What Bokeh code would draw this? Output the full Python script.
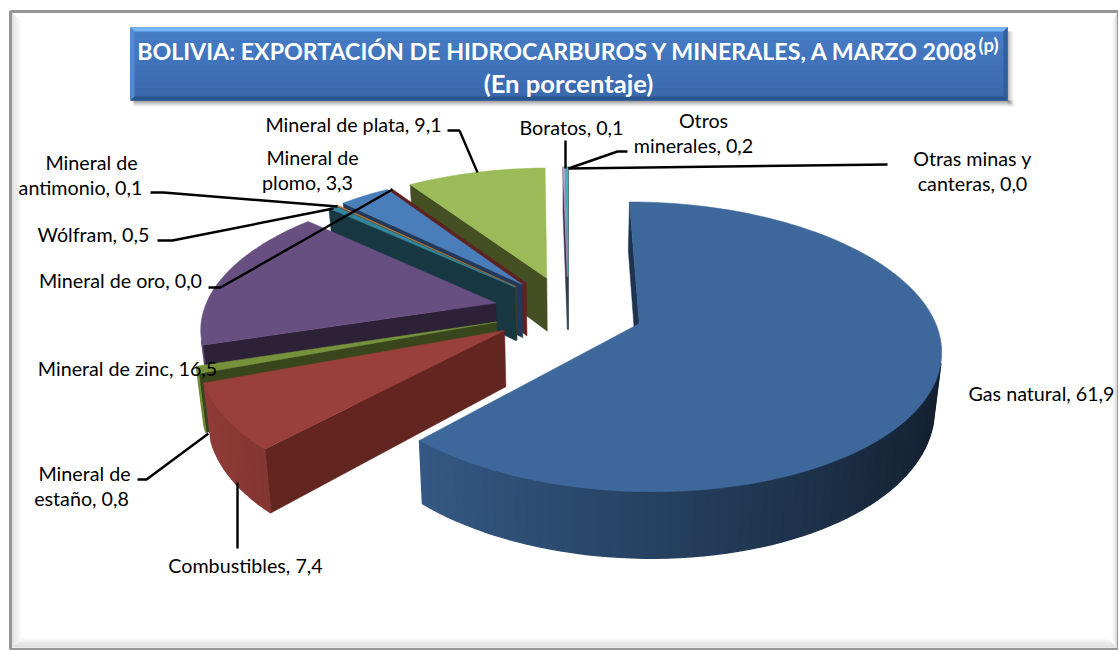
import math
from bokeh.plotting import figure
from bokeh.models import Range1d
from bokeh.core.properties import value
from bokeh.embed import file_html
from bokeh.resources import INLINE

# ---- data ----
categories = ["Gas natural", "Combustibles", "Mineral de estaño", "Mineral de zinc", "Wólfram",
              "Mineral de antimonio", "Mineral de plomo", "Mineral de oro", "Mineral de plata",
              "Boratos", "Otros minerales", "Otras minas y canteras"]
values = [61.9, 7.4, 0.8, 16.5, 0.5, 0.1, 3.3, 0.0, 9.1, 0.1, 0.2, 0.0]
title_line1 = "BOLIVIA: EXPORTACIÓN DE HIDROCARBUROS Y MINERALES, A MARZO 2008"
title_sup = "(p)"
title_line2 = "(En porcentaje)"

# ---- slice styles ----
top_colors = ["#3E689B", "#9A403C", "#76933C", "#674F81", "#31859C", "#C77B30",
              "#4A7EBB", "#953735", "#9BBB59", "#B3A2C7", "#4BACC6", "#F79646"]
wall_colors = ["#1E3350", "#62251F", "#39451C", "#2C2137", "#173842", "#4A3A20",
               "#23395A", "#5E2220", "#454F24", "#3F3050", "#205060", "#7A4A20"]
paint_order = [8, 11, 10, 9, 7, 6, 5, 4, 3, 2, 1, 0]

# ---- projection of the tilted pie ----
X0, Y0, R, K, C, E, H, SHR = 568, 310, 292, 0.158, 137, 75, 55, 0.98


def proj(mid, t):
    wx = E * math.sin(mid) + R * math.sin(t)
    w = (E * math.cos(mid) + R * math.cos(t)) / R
    s = 1 / (1 + K * w)
    return X0 + wx * s, Y0 - C * w * s, s


def apex(mid):
    wx = E * math.sin(mid)
    w = E * math.cos(mid) / R
    s = 1 / (1 + K * w)
    return X0 + wx * s, Y0 - C * w * s, s


def below(pt):
    return X0 + (pt[0] - X0) * SHR, pt[1] + H * pt[2]


def area(poly):
    return sum(poly[i][0] * poly[(i + 1) % len(poly)][1] - poly[(i + 1) % len(poly)][0] * poly[i][1]
               for i in range(len(poly)))


def shade(hexc, f):
    c = [int(hexc[i:i + 2], 16) for i in (1, 3, 5)]
    return "#%02x%02x%02x" % tuple(max(0, min(255, int(v * f))) for v in c)


total = sum(values)
starts = [sum(values[:i]) / total * 2 * math.pi for i in range(len(values))]
ends = [sum(values[:i + 1]) / total * 2 * math.pi for i in range(len(values))]

xs, ys, fills, lws = [], [], [], []


def add(poly, col, lw=0.5):
    xs.append([q[0] for q in poly])
    ys.append([q[1] for q in poly])
    fills.append(col)
    lws.append(lw)


for i in paint_order:
    a, b = starts[i], ends[i]
    m = (a + b) / 2
    if b - a == 0 and i > 0:
        # a zero share sits almost on its neighbour's exploded position
        m = m * 0.7 + 0.3 * (starts[i - 1] + ends[i - 1]) / 2
    ap = apex(m)
    pa, pb = proj(m, a), proj(m, b)
    wall_a = [ap[:2], pa[:2], below(pa), below(ap)]
    wall_b = [ap[:2], pb[:2], below(pb), below(ap)]
    if b - a == 0:
        add(wall_a, wall_colors[i])
        continue
    if area(wall_a) < 0:
        add(wall_a, wall_colors[i])
    if area(wall_b) > 0:
        add(wall_b, wall_colors[i])
    n = max(1, math.ceil((b - a) / math.radians(2)))
    ts = [a + (b - a) * j / n for j in range(n + 1)]
    pts = [proj(m, t) for t in ts]
    for j in range(n):
        q = [pts[j][:2], pts[j + 1][:2], below(pts[j + 1]), below(pts[j])]
        if area(q) < 0:
            f = 0.63 - 0.33 * math.sin((ts[j] + ts[j + 1]) / 2)
            add(q, shade(top_colors[i], f), 1.4)
    add([ap[:2]] + [q[:2] for q in pts], top_colors[i])

p = figure(width=1118, height=650, x_range=Range1d(0, 1118), y_range=Range1d(650, 0),
           output_backend="svg", toolbar_location=None, min_border=0)
p.axis.visible = False
p.grid.visible = False
p.outline_line_color = None
p.background_fill_color = "#FFFFFF"
p.border_fill_color = "#FFFFFF"

# ---- outer frame with bevel ----
FL, FR, FT, FB = 9, 1118, 10, 649
bev = 10
for k in range(bev):
    g = int(214 + (255 - 214) * k / bev)
    col = "#%02x%02x%02x" % (g, g, g)
    p.patches([[FL + 2 + k, FL + 3 + k, FL + 3 + k, FL + 2 + k]], [[FT + 2 + k, FT + 3 + k, FB - 3 - k, FB - 2 - k]],
              fill_color=col, line_color=None)
    p.patches([[FR - 1 - k * .5, FR - 2 - k * .5, FR - 2 - k * .5, FR - 1 - k * .5]],
              [[FT + 2 + k, FT + 3 + k, FB - 3 - k, FB - 2 - k]], fill_color=col, line_color=None)
    p.patches([[FL + 2 + k, FL + 3 + k, FR - 2 - k, FR - 1 - k]],
              [[FB - 2 - k * .9, FB - 3 - k * .9, FB - 3 - k * .9, FB - 2 - k * .9]], fill_color=col, line_color=None)
p.line([FL + 1, FL + 1, FR, FR, FL + 1], [FB, FT + 1, FT + 1, FB, FB], line_color="#969696", line_width=3)

# ---- title box ----
BL, BR, BT, BB = 130, 1007, 27, 100
for k in range(7):
    al = 0.30 * (1 - k / 7)
    p.quad(left=BL + 3, right=BR + 1 + k, top=BB, bottom=BB + 1 + k, fill_color="#505050", fill_alpha=al * .6, line_color=None)
    p.quad(left=BR, right=BR + 1 + k, top=BT + 4, bottom=BB + k, fill_color="#505050", fill_alpha=al * .4, line_color=None)
h_box = BB - BT
for k in range(h_box):
    t = k / h_box
    col = "#%02x%02x%02x" % (int(60 - 14 * t), int(118 - 24 * t), int(196 - 31 * t))
    p.quad(left=BL, right=BR, top=BT + k, bottom=BT + k + 1, fill_color=col, line_color=col, line_width=0.5)
bv = 4
p.patches([[BL, BR, BR - bv, BL + bv]], [[BT, BT, BT + bv, BT + bv]], fill_color="#76B6F4", line_color=None)
p.patches([[BL, BL + bv, BL + bv, BL]], [[BT, BT + bv, BB - bv, BB]], fill_color="#4F8CD4", line_color=None)
p.patches([[BR, BR - bv, BR - bv, BR]], [[BT, BT + bv, BB - bv, BB]], fill_color="#2F5F9C", line_color=None)
p.patches([[BL, BR, BR - bv, BL + bv]], [[BB, BB, BB - bv, BB - bv]], fill_color="#29558D", line_color=None)

# ---- pie ----
p.patches(xs, ys, fill_color=fills, line_color=fills, line_width=lws)

# ---- leader lines ----
leaders = [
    ([447, 459, 477], [130, 130, 172]),
    ([565, 565], [140, 168]),
    ([627, 617, 568], [151, 151, 168]),
    ([887, 568], [164, 168]),
    ([150, 163, 337], [192, 192, 206]),
    ([157, 172, 333], [240, 240, 208]),
    ([208, 220, 392], [287, 287, 189]),
    ([137, 146, 208], [479, 479, 433]),
    ([237, 237], [548, 482]),
]
for lx, ly in leaders:
    p.line(lx, ly, line_color="#000000", line_width=2.4)

# ---- labels ----
FONT = "Lato"
LS = "19.7px"
labels = [
    ("Mineral de plata, 9,1", 353, 124), ("Boratos, 0,1", 571, 127),
    ("Otros", 703, 120), ("minerales, 0,2", 693, 145),
    ("Otras minas y", 972, 158), ("canteras, 0,0", 972, 183),
    ("Mineral de", 91, 162), ("antimonio, 0,1", 80, 187),
    ("Mineral de", 312, 157), ("plomo, 3,3", 307, 182),
    ("Wólfram, 0,5", 93, 234), ("Mineral de oro, 0,0", 120, 280),
    ("Mineral de zinc, 16,5", 127, 368),
    ("Mineral de", 84, 473), ("estaño, 0,8", 81, 498),
    ("Combustibles, 7,4", 245, 565), ("Gas natural, 61,9", 1041, 393),
]
p.text([l[1] for l in labels], [l[2] for l in labels], text=[l[0] for l in labels],
       text_font=value(FONT), text_font_size=LS, text_color="#000000", text_align="center", text_baseline="middle")

p.text([558], [50], text=[title_line1], text_font=value(FONT), text_font_style="bold",
       text_font_size="23.2px", text_color="#FFFFFF", text_align="center", text_baseline="middle")
p.text([988], [44], text=[title_sup], text_font=value(FONT), text_font_style="bold",
       text_font_size="18.5px", text_color="#FFFFFF", text_align="center", text_baseline="middle")
p.text([568], [82], text=[title_line2], text_font=value(FONT), text_font_style="bold",
       text_font_size="25.6px", text_color="#FFFFFF", text_align="center", text_baseline="middle")

open("out.html", "w").write(file_html(p, INLINE))
